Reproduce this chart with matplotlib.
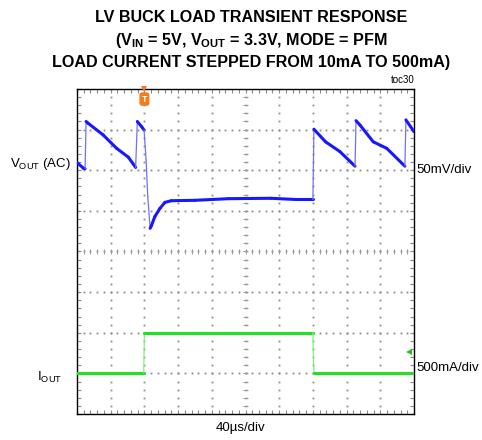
import numpy as np
import matplotlib
matplotlib.use("Agg")
import matplotlib.pyplot as plt
from matplotlib import font_manager
from matplotlib.collections import LineCollection

# ---------------- scope settings ----------------
TIME_PER_DIV_US = 40.0      # 40 µs/div
VOUT_MV_PER_DIV = 50.0      # 50 mV/div (AC coupled)
IOUT_MA_PER_DIV = 500.0     # 500 mA/div
N_XDIV, N_YDIV = 10, 8

# ---------------- captured waveforms ----------------
# output voltage, AC coupled (µs, mV)
vout_t_us = [0.0, 7.6, 9.6, 10.8, 13.0, 31.0, 47.0, 61.0, 69.6,
             71.6, 76.8, 79.6, 82.0, 84.0, 86.8, 88.4, 92.4, 98.4,
             104.4, 112.0, 140.0, 180.0, 230.0, 260.0, 280.0,
             281.2, 295.0, 312.0, 330.0,
             331.2, 336.0, 351.6, 367.6, 389.2,
             390.4, 400.0]
vout_mv = [9.5, 2.5, 2.0, 60.0, 58.0, 43.5, 27.0, 16.0, 3.5,
           60.0, 53.5, 49.5, 12.5, -32.5, -71.5, -68.0, -57.0, -47.0,
           -39.5, -37.5, -37.0, -35.0, -34.5, -36.0, -36.0,
           50.5, 35.0, 23.0, 5.0,
           61.0, 55.5, 35.0, 27.0, 5.0,
           62.0, 47.5]

# load current (µs, mA)
iout_t_us = [0.0, 79.2, 80.0, 280.0, 280.4, 281.2, 400.0]
iout_ma = [10.0, 10.0, 500.0, 500.0, 280.0, 10.0, 10.0]

trigger_t_us = 80.0
trigger_level_ma = 265.0

# channel display offsets (divisions from the bottom of the screen)
VOUT_REF_DIV = 6.0
IOUT_REF_DIV = 1.0


def has_font(name):
    try:
        font_manager.findfont(font_manager.FontProperties(family=name),
                              fallback_to_default=False)
        return True
    except Exception:
        return False


body_font = "Liberation Sans" if has_font("Liberation Sans") else "DejaVu Sans"
if has_font("Liberation Sans Narrow"):
    title_font, title_size = "Liberation Sans Narrow", 13.4
else:
    title_font, title_size = body_font, 11.6

plt.rcParams["font.family"] = [body_font, "DejaVu Sans"]
plt.rcParams["mathtext.fontset"] = "custom"
plt.rcParams["mathtext.rm"] = body_font
plt.rcParams["mathtext.bf"] = f"{title_font}:bold"

W, H = 482, 440
fig = plt.figure(figsize=(W / 100, H / 100), dpi=100)
fig.patch.set_facecolor("white")

x0, x1, y0, y1 = 77, 414, 89, 414   # screen frame in pixels
ax = fig.add_axes([x0 / W, 1 - y1 / H, (x1 - x0) / W, (y1 - y0) / H])
ax.set_xlim(0, N_XDIV)
ax.set_ylim(0, N_YDIV)
for s in ax.spines.values():
    s.set_color("black")
    s.set_linewidth(1.0)

# border ticks every minor division, pointing inward
minor_x = np.arange(0, N_XDIV + 1e-9, 0.2)
minor_y = np.arange(0, N_YDIV + 1e-9, 0.2)
ax.set_xticks(minor_x)
ax.set_yticks(minor_y)
ax.tick_params(direction="in", length=3, width=0.8, color="#8a8a8a",
               top=True, right=True, labelbottom=False, labelleft=False)

# dotted graticule
dot_kw = dict(linestyle="none", marker="s", markersize=1.3, mew=0,
              color="#8c8c8c", zorder=1)
for gx in range(1, N_XDIV):
    ax.plot(np.full_like(minor_y, gx), minor_y, **dot_kw)
for gy in range(1, N_YDIV):
    ax.plot(minor_x, np.full_like(minor_x, gy), **dot_kw)

# centre axes with minor tick marks
cx, cy = N_XDIV / 2, N_YDIV / 2
tick_h = 2.5 / ((y1 - y0) / N_YDIV)
tick_w = 2.5 / ((x1 - x0) / N_XDIV)
segs = [[(x, cy - tick_h), (x, cy + tick_h)] for x in minor_x]
segs += [[(cx - tick_w, y), (cx + tick_w, y)] for y in minor_y]
ax.add_collection(LineCollection(segs, colors="#9a9a9a", linewidths=0.7,
                                 zorder=1))


def draw_trace(xs, ys, color, edge_color, lw, edge_lw):
    xs = np.asarray(xs, float)
    ys = np.asarray(ys, float)
    pts = np.column_stack([xs, ys])
    seg = np.stack([pts[:-1], pts[1:]], axis=1)
    dx, dy = np.diff(xs), np.diff(ys)
    fast = np.abs(dy) > 5 * np.abs(dx)
    colors = [edge_color if f else color for f in fast]
    widths = [edge_lw if f else lw for f in fast]
    lc = LineCollection(seg, colors=colors, linewidths=widths,
                        capstyle="round", joinstyle="round", zorder=3)
    ax.add_collection(lc)


vx = np.asarray(vout_t_us) / TIME_PER_DIV_US
vy = VOUT_REF_DIV + np.asarray(vout_mv) / VOUT_MV_PER_DIV
ix = np.asarray(iout_t_us) / TIME_PER_DIV_US
iy = IOUT_REF_DIV + np.asarray(iout_ma) / IOUT_MA_PER_DIV

draw_trace(vx, vy, "#1818ff", "#7070ff", 2.2, 0.9)
draw_trace(ix, iy, "#22e022", "#80ee80", 2.2, 0.9)

# trigger position marker (top) and trigger level marker (right)
tx = trigger_t_us / TIME_PER_DIV_US
ax.plot([tx], [1.0], transform=ax.get_xaxis_transform(), marker="v",
        markersize=4, color="#f07d1e", mew=0, clip_on=False, zorder=5)
ax.text(tx, 0.969, "T", transform=ax.get_xaxis_transform(), ha="center",
        va="center", color="white", fontsize=6.5, fontweight="bold",
        bbox=dict(boxstyle="round,pad=0.25,rounding_size=0.3",
                  fc="#f07d1e", ec="none"), zorder=5)
ax.plot([9.85], [IOUT_REF_DIV + trigger_level_ma / IOUT_MA_PER_DIV],
        marker="<", markersize=4, color="#22c022", mew=0, zorder=5)


def ftext(px, py, s, **kw):
    fig.text(px / W, 1 - py / H, s, **kw)


# title
tkw = dict(ha="center", va="center", fontsize=title_size, fontweight="bold",
           family=[title_font, "DejaVu Sans"])
ftext(251, 17, "LV BUCK LOAD TRANSIENT RESPONSE", **tkw)
ftext(251, 41, r"(V$_{\mathbf{IN}}$ = 5V, V$_{\mathbf{OUT}}$ = 3.3V, MODE = PFM", **tkw)
ftext(251, 63, "LOAD CURRENT STEPPED FROM 10mA TO 500mA)", **tkw)

ftext(415, 80, "toc30", ha="right", va="center", fontsize=7)

# channel labels and scales
lkw = dict(va="center", fontsize=9.5)
ftext(10, 164, r"V$_{\mathrm{OUT}}$ (AC)", ha="left", **lkw)
ftext(37, 377, r"I$_{\mathrm{OUT}}$", ha="left", **lkw)
ftext(416, 170, "50mV/div", ha="left", **lkw)
ftext(416, 368, "500mA/div", ha="left", **lkw)
ftext(241, 428, "40µs/div", ha="center", **lkw)

fig.savefig("out.png", dpi=100, facecolor="white")
